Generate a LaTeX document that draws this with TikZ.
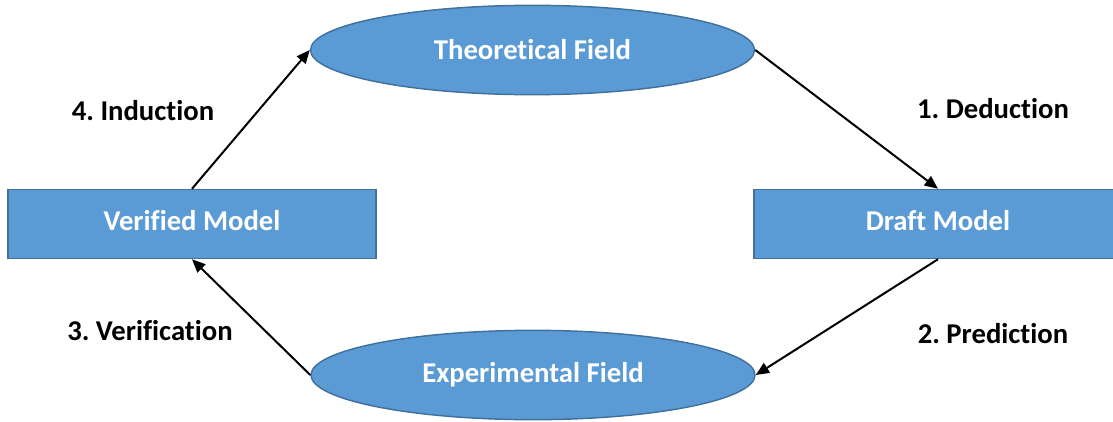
\documentclass[tikz,border=0pt]{standalone}
\usepackage{fontspec}
\setmainfont{Carlito}[Ligatures={NoCommon}]
\usetikzlibrary{shapes.geometric,arrows.meta,positioning}
\definecolor{fieldblue}{HTML}{5B9BD5}
\definecolor{fieldedge}{HTML}{41719C}
\frenchspacing
\tikzset{
  fieldell/.style={ellipse,draw=fieldedge,fill=fieldblue,line width=1.1pt,inner sep=0pt,minimum width=333pt,minimum height=67pt,font=\fontsize{21.5}{24}\selectfont\bfseries,text=white},
  modelbox/.style={rectangle,draw=fieldedge,fill=fieldblue,line width=1.1pt,inner sep=0pt,minimum width=276pt,minimum height=51.75pt,text depth=0.5em,font=\fontsize{21.5}{24}\selectfont\bfseries,text=white},
  cyclearr/.style={-{Triangle[length=10pt,width=8.5pt]},line width=1.5pt},
  cyclelabel/.style={font=\fontsize{21.5}{24}\selectfont\bfseries,inner sep=0pt}
}
\begin{document}
\begin{tikzpicture}[x=0.75pt,y=-0.75pt]
  \useasboundingbox (0,0) rectangle (1113,421);
  % the two fields and the two models
  \node[fieldell] (theo) at (532.5,50) {Theoretical Field};
  \node[fieldell] (expe) at (533,375) {Experimental Field};
  \node[modelbox] (verif) at (192,224) {Verified Model};
  \node[modelbox] (draft) at (938,224) {Draft Model};
  % the cycle
  \draw[cyclearr] (theo.east) -- (draft.north);
  \draw[cyclearr] (draft.south) -- (expe.east);
  \draw[cyclearr] (expe.west) -- (verif.south);
  \draw[cyclearr] (verif.north) -- (theo.west);
  \node[cyclelabel] (deduc) at (993,109) {1. Deduction};
  \node[cyclelabel] (predi) at (993,334) {2. Prediction};
  \node[cyclelabel] (verifl) at (150,331) {3. Verification};
  \node[cyclelabel] (induc) at (143,111) {4. Induction};
\end{tikzpicture}
\end{document}
